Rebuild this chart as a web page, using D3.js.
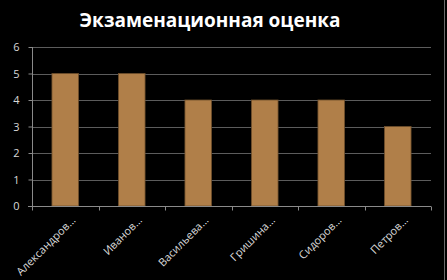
<!DOCTYPE html>
<html>
<head>
<meta charset="utf-8">
<script src="https://cdn.jsdelivr.net/npm/d3@7"></script>
<style>
  body { margin: 0; background: #000; }
  svg { display: block; }
</style>
</head>
<body>
<script>
// data
const students = ["Александров…", "Иванов…", "Васильева…", "Гришина…", "Сидоров…", "Петров…"];
const grades = [5, 5, 4, 4, 4, 3];
const yTicks = [0, 1, 2, 3, 4, 5, 6];
const title = "Экзаменационная оценка";

const width = 447;
const height = 280;
const plotLeft = 32, plotRight = 431, plotTop = 47, plotBottom = 206;

const svg = d3.select("body")
    .append("svg")
    .attr("width", width)
    .attr("height", height);

// background + border
svg.append("rect")
    .attr("x", 0).attr("y", 0)
    .attr("width", width).attr("height", height)
    .attr("fill", "#000");
svg.append("line")
    .attr("x1", 444.5).attr("x2", 444.5)
    .attr("y1", 0).attr("y2", height)
    .attr("stroke", "#6a6a6a");

// scales
const xScale = d3.scaleBand()
    .domain(students)
    .range([plotLeft, plotRight])
    .paddingInner(0.6)
    .paddingOuter(0.3);

const yScale = d3.scaleLinear()
    .domain([0, 6])
    .range([plotBottom, plotTop]);

// gridlines
svg.append("g")
    .selectAll("line")
    .data(yTicks.slice(1))
    .enter()
    .append("line")
    .attr("x1", plotLeft)
    .attr("x2", plotRight)
    .attr("y1", d => Math.round(yScale(d)) + 0.5)
    .attr("y2", d => Math.round(yScale(d)) + 0.5)
    .attr("stroke", "#5c5c5c");

// bars
svg.selectAll("rect.bar")
    .data(grades)
    .enter()
    .append("rect")
    .attr("class", "bar")
    .attr("x", (d, i) => xScale(students[i]))
    .attr("y", d => yScale(d))
    .attr("width", xScale.bandwidth())
    .attr("height", d => plotBottom - yScale(d))
    .attr("fill", "#b07f49")
    .attr("stroke", "#6e4f2c")
    .attr("stroke-width", 0.8);

// y axis
const leftAxis = d3.axisLeft(yScale)
    .tickValues(yTicks)
    .tickFormat(d3.format("d"))
    .tickSize(4)
    .tickPadding(9);
const gy = svg.append("g")
    .attr("transform", "translate(" + (plotLeft + 0.5) + ",0)")
    .call(leftAxis);
gy.select(".domain").attr("stroke", "#8a8a8a").attr("d", "M0," + plotTop + "V" + (plotBottom + 4));
gy.selectAll(".tick line").attr("stroke", "#8a8a8a");
gy.selectAll(".tick text")
    .attr("fill", "#d8d8d8")
    .style("font-family", "'Open Sans', sans-serif")
    .style("font-size", "11px");

// x axis
const bottomAxis = d3.axisBottom(xScale).tickSize(0).tickFormat("");
const gx = svg.append("g")
    .attr("transform", "translate(0," + (plotBottom + 0.5) + ")")
    .call(bottomAxis);
gx.select(".domain").attr("stroke", "#8a8a8a").attr("d", "M" + (plotLeft - 4) + ",0H" + plotRight);

// category boundary ticks
gx.append("g")
    .selectAll("line")
    .data(d3.range(students.length + 1))
    .enter()
    .append("line")
    .attr("x1", i => Math.round(plotLeft + i * (plotRight - plotLeft) / students.length) + 0.5)
    .attr("x2", i => Math.round(plotLeft + i * (plotRight - plotLeft) / students.length) + 0.5)
    .attr("y1", 0)
    .attr("y2", 4)
    .attr("stroke", "#8a8a8a");

// rotated labels
svg.append("g")
    .selectAll("text")
    .data(students)
    .enter()
    .append("text")
    .attr("transform", d => "translate(" + (xScale(d) + xScale.bandwidth() / 2 + 11) + "," + (plotBottom + 15) + ") rotate(-45)")
    .attr("text-anchor", "end")
    .attr("fill", "#d8d8d8")
    .style("font-family", "'Open Sans', sans-serif")
    .style("font-size", "11px")
    .text(d => d);

// title
svg.append("text")
    .attr("x", 210)
    .attr("y", 27)
    .attr("text-anchor", "middle")
    .attr("fill", "#fff")
    .style("font-family", "'Open Sans', sans-serif")
    .style("font-weight", "bold")
    .style("font-size", "19px")
    .text(title);
</script>
</body>
</html>
